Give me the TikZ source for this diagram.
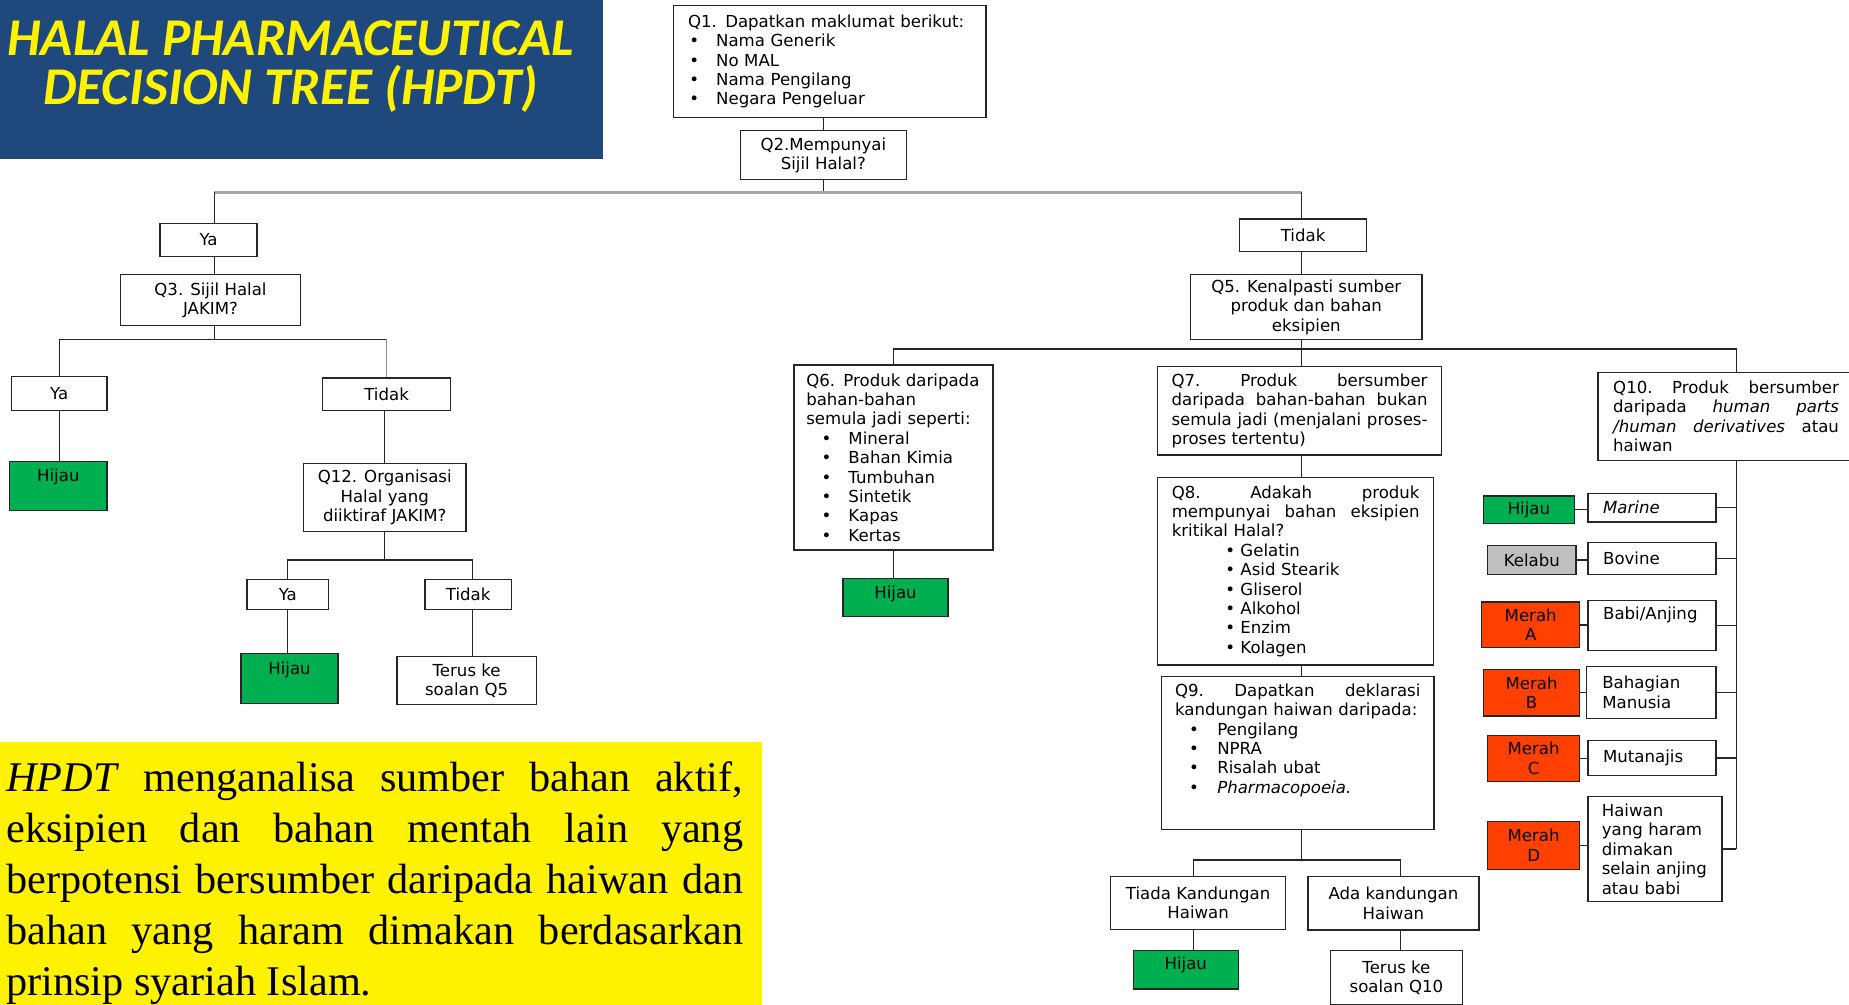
\documentclass[tikz,border=0pt]{standalone}
\usepackage{fontspec}
\setmainfont{DejaVu Sans}
\newfontfamily\titlefont{Carlito}
\newfontfamily\notefont{Liberation Serif}
\hyphenpenalty=10000
\exhyphenpenalty=10000
\newlength\upx
\setlength\upx{0.025cm}
\definecolor{titleblue}{RGB}{31,73,125}
\colorlet{titleyellow}{yellow}
\colorlet{notecol}{yellow}
\definecolor{hijaucol}{RGB}{0,176,80}
\definecolor{kelabucol}{RGB}{191,191,191}
\definecolor{merahcol}{RGB}{255,64,0}
\colorlet{linecol}{black!85}
\tikzstyle{link}=[linecol,line width=0.8]
\tikzstyle{faint}=[black!45,line width=0.8]
\tikzstyle{bus}=[black!35,line width=2]
\tikzset{
  box/.style 2 args={draw=linecol,line width=0.8,anchor=north west,inner sep=0,
                     minimum width=#1*\upx,minimum height=#2*\upx,align=center,
                     font=\fontsize{10}{11.7}\selectfont},
  hijau/.style={fill=hijaucol},
  kelabu/.style={fill=kelabucol},
  merah/.style={fill=merahcol},
  lift/.style={text depth=#1}
}

\begin{document}
\begin{tikzpicture}[x=0.025cm,y=-0.025cm]
  \def\bul#1#2{\hspace*{#1\upx}\makebox[#2\upx][l]{\textbullet}}
  \useasboundingbox (0,0) rectangle (1568,852);

  % TITLE
  \fill[titleblue] (0,0) rectangle (511,135);
  \node[anchor=base,inner sep=0,align=center,text=titleyellow,
        font=\titlefont\fontsize{32}{30}\selectfont\bfseries\itshape] (title) at (246.5,89)
        {HALAL PHARMACEUTICAL\\DECISION TREE (HPDT)};

  % NOTE
  \fill[notecol] (0,629) rectangle (646.6,852);
  \node[anchor=base west,inner sep=0,text width=15.62cm,align=justify,
        font=\notefont\fontsize{25.5}{30.8}\selectfont] (note) at (5,671.2)
        {\textit{HPDT} menganalisa sumber bahan aktif,\linebreak
         eksipien dan bahan mentah lain yang\linebreak
         berpotensi bersumber daripada haiwan dan\linebreak
         bahan yang haram dimakan berdasarkan\linebreak
         prinsip syariah Islam.};

  % COLUMNS AND ROWS OF THE LINKS
  \coordinate (colA) at (181.7,0);
  \coordinate (colB) at (400.7,0);
  \coordinate (colC) at (1103.7,0);
  \coordinate (colD) at (1472.4,0);
  \coordinate (colE) at (1012,0);
  \coordinate (colF) at (1187.8,0);
  \coordinate (row2) at (0,163);
  \coordinate (row3) at (0,287.7);
  \coordinate (row12) at (0,474.9);
  \coordinate (row5) at (0,296);
  \coordinate (row9) at (0,729.3);

  % TOP
  \node[box={265}{94.7},text width=6cm,align=left] (q1) at (570.5,4.2)
    {Q1. Dapatkan maklumat berikut:\\
     \bul{1}{22.8}Nama Generik\\
     \bul{1}{22.8}No MAL\\
     \bul{1}{22.8}Nama Pengilang\\
     \bul{1}{22.8}Negara Pengeluar};
  \node[box={140.7}{41.6}] (q2) at (627.3,110.2) {Q2.Mempunyai\\Sijil Halal?};

  % LEFT BRANCH
  \node[box={82.2}{28}] (ya1) at (135.2,188.8) {Ya};
  \node[box={152.5}{43.3}] (q3) at (101.7,232.3) {Q3. Sijil Halal\\JAKIM?};
  \node[box={81.1}{28.8}] (ya2) at (9.1,318.9) {Ya};
  \node[box={82.6}{41.5},hijau,lift=13pt] (h1) at (7.6,390.9) {Hijau};
  \node[box={108.6}{27.8}] (tidak2) at (273,320) {Tidak};
  \node[box={137.8}{58}] (q12) at (256.8,392.3) {Q12. Organisasi\\Halal yang\\diiktiraf JAKIM?};
  \node[box={69}{25.4}] (ya3) at (209,491) {Ya};
  \node[box={73.1}{25.4}] (tidak3) at (359.9,491) {Tidak};
  \node[box={82.4}{42.4},hijau,lift=12.5pt] (h2) at (203.8,553.4) {Hijau};
  \node[box={118.3}{41}] (terus5) at (336,556) {Terus ke\\soalan Q5};

  % RIGHT BRANCH
  \node[box={107.8}{27.7}] (tidak1) at (1050.6,185.1) {Tidak};
  \node[box={196.4}{55.2}] (q5) at (1009,232.3) {Q5. Kenalpasti sumber\\produk dan bahan\\eksipien};
  \node[box={168.8}{156.8},text width=3.7cm,align=left] (q6) at (672.8,309)
    {Q6. Produk daripada\\bahan-bahan\\semula jadi seperti:\\
     \bul{13.1}{22.7}Mineral\\
     \bul{13.1}{22.7}Bahan Kimia\\
     \bul{13.1}{22.7}Tumbuhan\\
     \bul{13.1}{22.7}Sintetik\\
     \bul{13.1}{22.7}Kapas\\
     \bul{13.1}{22.7}Kertas};
  \node[box={89}{32.5},hijau,lift=6.5pt] (h3) at (714.4,489.9) {Hijau};
  \node[box={240.4}{74.9},text width=5.425cm,align=left] (q7) at (981.3,310.4)
    {Q7.\hfill Produk\hfill bersumber\\
     daripada\hfill bahan-bahan\hfill bukan\\
     semula\hfill jadi\hfill (menjalani\hfill proses-\\
     proses tertentu)};
  \node[box={233.8}{159.1},text width=5.25cm,align=left] (q8) at (981.3,404.2)
    {Q8.\hfill Adakah\hfill produk\\
     mempunyai\hfill bahan\hfill eksipien\\
     kritikal Halal?\\
     \bul{45.4}{12.8}Gelatin\\
     \bul{45.4}{12.8}Asid Stearik\\
     \bul{45.4}{12.8}Gliserol\\
     \bul{45.4}{12.8}Alkohol\\
     \bul{45.4}{12.8}Enzim\\
     \bul{45.4}{12.8}Kolagen};
  \node[box={230.9}{130},text width=5.2cm,align=left,lift=76pt] (q9) at (984.5,573)
    {Q9.\hfill Dapatkan\hfill deklarasi\\
     kandungan haiwan daripada:\\
     \bul{12}{23.8}Pengilang\\
     \bul{12}{23.8}NPRA\\
     \bul{12}{23.8}Risalah ubat\\
     \bul{12}{23.8}\textit{Pharmacopoeia.}};
  \node[box={148.4}{44.7}] (tiada) at (941.3,742.8) {Tiada Kandungan\\Haiwan};
  \node[box={145}{45.2}] (ada) at (1108.6,742.8) {Ada kandungan\\Haiwan};
  \node[box={89}{32.5},hijau,lift=7.5pt] (h4) at (960.5,805.6) {Hijau};
  \node[box={111.7}{45.8}] (terus10) at (1127.8,805.6) {Terus ke\\soalan Q10};

  % Q10 AND ITS CLASSES
  \node[box={217.4}{74.5},text width=4.785cm,align=left] (q10) at (1354.5,315.2)
    {Q10.\hfill Produk\hfill bersumber\\
     daripada\hfill \textit{human}\hfill \textit{parts}\\
     \textit{/human}\hfill \textit{derivatives}\hfill atau\\
     haiwan};
  \node[box={108.7}{24},text width=2.07cm,align=left] (marine) at (1346,418) {\textit{Marine}};
  \node[box={108.7}{26.7},text width=2.07cm,align=left] (bovine) at (1346,459.7) {Bovine};
  \node[box={108.7}{42.2},text width=2.07cm,align=left,lift=14.3pt] (babi) at (1346,508.8) {Babi/Anjing};
  \node[box={110.1}{44.3},text width=2.07cm,align=left] (bahagian) at (1344.6,564.5) {Bahagian\\Manusia};
  \node[box={108.7}{29.5},text width=2.07cm,align=left] (mutanajis) at (1346,627.5) {Mutanajis};
  \node[box={113.6}{89},text width=2.25cm,align=left] (haiwan) at (1346,675)
    {Haiwan\\yang haram\\dimakan\\selain anjing\\atau babi};
  \node[box={77}{23.4},hijau] (h5) at (1257.5,420) {Hijau};
  \node[box={75}{24.4},kelabu] (kel) at (1261,462) {Kelabu};
  \node[box={83}{38.7},merah] (mA) at (1256,510) {Merah\\A};
  \node[box={81.5}{39.6},merah] (mB) at (1257.5,567) {Merah\\B};
  \node[box={78}{39},merah] (mC) at (1261,623) {Merah\\C};
  \node[box={78}{40.6},merah] (mD) at (1261,696) {Merah\\D};

  % LINKS
  \draw[link] (q2.north) -- (q2.north |- q1.south);
  \draw[link] (q2.south) -- (q2.south |- row2);
  \draw[bus] (colA |- row2) -- (colC |- row2);
  \draw[link] (colA |- row2) -- (colA |- ya1.north);
  \draw[link] (colA |- ya1.south) -- (colA |- q3.north);
  \draw[link] (colA |- q3.south) -- (colA |- row3);
  \draw[link] (ya2.north) |- (row3 -| tidak2.north);
  \draw[faint] (row3 -| tidak2.north) -- (tidak2.north);
  \draw[link] (ya2.south) -- (ya2.south |- h1.north);
  \draw[link] (q12.north) -- (q12.north |- tidak2.south);
  \draw[link] (q12.south) -- (q12.south |- row12);
  \draw[link] (ya3.north) |- (row12 -| colB) -- (colB |- tidak3.north);
  \draw[link] (ya3.south) -- (ya3.south |- h2.north);
  \draw[link] (colB |- tidak3.south) -- (colB |- terus5.north);

  \draw[link] (colC |- row2) -- (colC |- tidak1.north);
  \draw[link] (colC |- tidak1.south) -- (colC |- q5.north);
  \draw[link] (colC |- q5.south) -- (colC |- row5);
  \draw[link] (q6.north) |- (row5 -| colD) -- (colD |- q10.north);
  \draw[link] (colC |- row5) -- (colC |- q7.north);
  \draw[link] (q6.south) -- (q6.south |- h3.north);
  \draw[link] (colC |- q7.south) -- (colC |- q8.north);
  \draw[link] (colC |- q8.south) -- (colC |- q9.north);
  \draw[link] (colC |- q9.south) -- (colC |- row9);
  \draw[link] (colE |- tiada.north) |- (row9 -| colF) -- (colF |- ada.north);
  \draw[link] (colE |- tiada.south) -- (colE |- h4.north);
  \draw[link] (colF |- ada.south) -- (colF |- terus10.north);

  \draw[link] (colD |- q10.south) -- (colD |- haiwan.east);
  \foreach \c/\n in {h5/marine,kel/bovine,mA/babi,mB/bahagian,mC/mutanajis,mD/haiwan}{
    \draw[link] (\n.east) -- (\n.east -| colD);
    \draw[link] (\c.east) -- (\c.east -| \n.west);
  }
\end{tikzpicture}
\end{document}
